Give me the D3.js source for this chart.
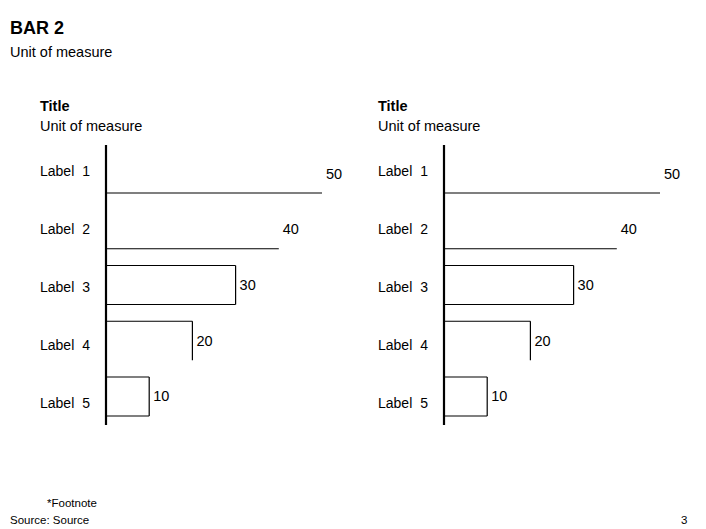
<!DOCTYPE html>
<html>
<head>
<meta charset="utf-8">
<script src="https://cdn.jsdelivr.net/npm/d3@7"></script>
<style>
  body { margin: 0; background: #fff; }
  text { font-family: "Liberation Sans", Arial, sans-serif; fill: #000; }
</style>
</head>
<body>
<div id="chart"></div>
<script>
// data
const categories = ["Label 1", "Label 2", "Label 3", "Label 4", "Label 5"];
const leftValues = [50, 40, 30, 20, 10];
const rightValues = [50, 40, 30, 20, 10];
const chartTitles = ["Title", "Title"];
const chartUnits = ["Unit of measure", "Unit of measure"];

// which edges of each bar get drawn (t = top, r = right, b = bottom)
const barEdges = ["b", "b", "trb", "tr", "trb"];

const width = 706, height = 529;

let svg = d3.select("#chart")
    .append("svg")
        .attr("width", width)
        .attr("height", height);

//page title
svg.append("text").attr("x", 10).attr("y", 34)
    .style("font-size", "18px").style("font-weight", "bold").text("BAR 2");
svg.append("text").attr("x", 10).attr("y", 57)
    .style("font-size", "14.5px").text("Unit of measure");

//footnotes
svg.append("text").attr("x", 47).attr("y", 507)
    .style("font-size", "11.5px").text("*Footnote");
svg.append("text").attr("x", 10).attr("y", 524)
    .style("font-size", "11.5px").text("Source: Source");
svg.append("text").attr("x", 681).attr("y", 524)
    .style("font-size", "11.5px").text("3");

function drawPanel(offsetX, values, title, unit) {
    let g = svg.append("g").attr("transform", `translate(${offsetX}, 0)`);
    let axisX = 106;

    let x = d3.scaleLinear().domain([0, 50]).range([axisX, axisX + 216]);
    let y = d3.scaleBand().domain(categories).range([154, 416]).paddingInner(0.3);
    // category labels sit in their own column, spaced a bit wider
    let yLab = d3.scalePoint().domain(categories).range([171, 403]);

    g.append("text").attr("x", 40).attr("y", 111)
        .style("font-size", "14.5px").style("font-weight", "bold").text(title);
    g.append("text").attr("x", 40).attr("y", 131)
        .style("font-size", "14.5px").text(unit);

    // bars as paths so only the needed edges show
    g.selectAll("path.bar")
        .data(values)
        .enter()
        .append("path")
        .attr("class", "bar")
        .attr("fill", "none")
        .attr("stroke", "#000")
        .attr("stroke-width", 1.2)
        .attr("d", function(d, i) {
            let x0 = x(0), x1 = x(d);
            let y0 = y(categories[i]), y1 = y0 + y.bandwidth();
            let e = barEdges[i];
            let p = "";
            if (e.includes("t")) p += `M${x0},${y0}H${x1}`;
            if (e.includes("r")) p += `M${x1},${y0}V${y1}`;
            if (e.includes("b")) p += `M${x0},${y1}H${x1}`;
            return p;
        });

    // value labels
    g.selectAll("text.val")
        .data(values)
        .enter()
        .append("text")
        .attr("class", "val")
        .attr("x", d => x(d) + 4)
        .attr("y", (d, i) => y(categories[i]) + y.bandwidth() / 2 + 5)
        .style("font-size", "14.5px")
        .text(d => d);

    // category labels
    g.selectAll("text.cat")
        .data(categories)
        .enter()
        .append("text")
        .attr("class", "cat")
        .attr("x", 40)
        .attr("y", d => yLab(d) + 5)
        .style("font-size", "14px")
        .style("word-spacing", "4px")
        .text(d => d);

    // axis line
    g.append("line")
        .attr("x1", axisX).attr("x2", axisX)
        .attr("y1", 145).attr("y2", 425)
        .attr("stroke", "#000")
        .attr("stroke-width", 2.2);
}

drawPanel(0, leftValues, chartTitles[0], chartUnits[0]);
drawPanel(338, rightValues, chartTitles[1], chartUnits[1]);
</script>
</body>
</html>
